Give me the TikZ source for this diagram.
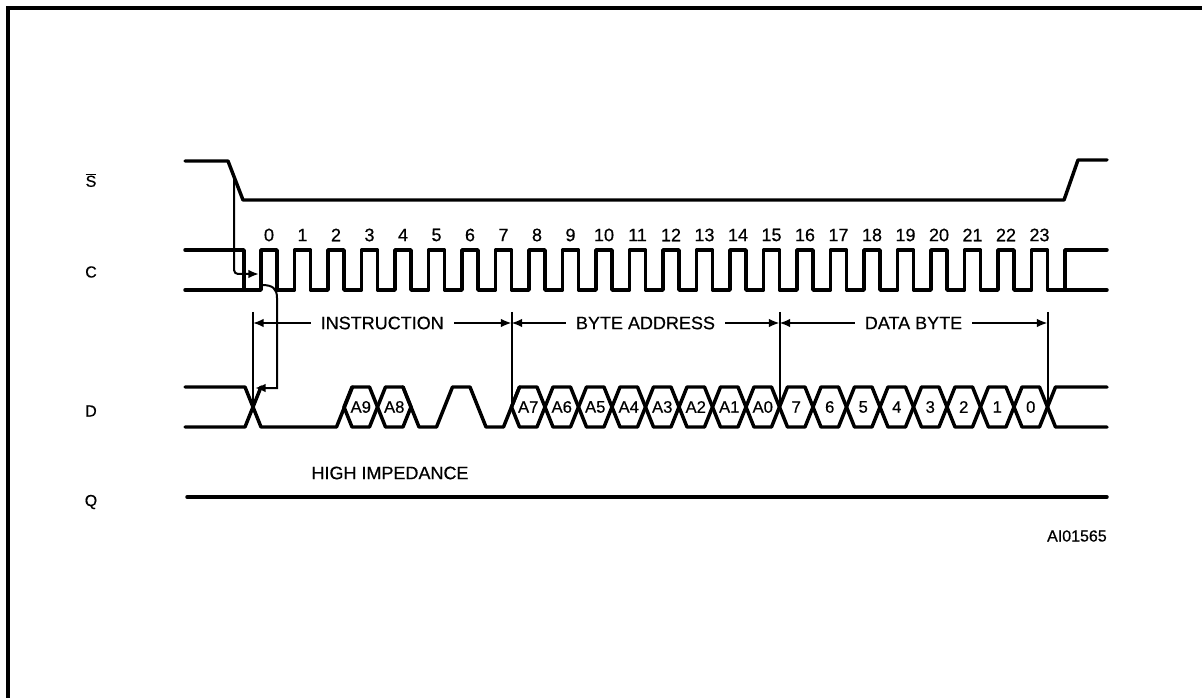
\documentclass[tikz,border=0pt]{standalone}
\usepackage{fontspec}
\setmainfont{Liberation Sans}[FakeBold=0.5]
\usetikzlibrary{arrows.meta}
\begin{document}
\begin{tikzpicture}[x=0.75pt,y=-0.75pt,
  sig/.style={line width=2.6pt, line join=round, line cap=round},
  tick/.style={line width=1.5pt},
  conn/.style={line width=1.5pt, rounded corners=3pt, -{Latex[length=8pt,width=6.5pt]}},
  dimarrow/.style={line width=1.4pt, {Latex[length=8pt,width=6.5pt]}-{Latex[length=8pt,width=6.5pt]}},
  big/.style={font=\fontsize{13.5pt}{16pt}\selectfont, inner sep=0pt},
  dimlbl/.style={big, fill=white, inner xsep=7.5pt, inner ysep=2pt},
  hexlbl/.style={font=\fontsize{12.5pt}{15pt}\selectfont, inner sep=0pt},
  siglbl/.style={font=\fontsize{12pt}{14pt}\selectfont, inner sep=0pt},
  frame/.style={line width=2.4pt}]
\useasboundingbox (0,0) rectangle (1202,698);
\draw[frame] (8,698) -- (8,8) -- (1202,8);

% signal names
\node[siglbl] (ls) at (91,180) {$\overline{\hbox{S}}$};
\node[siglbl] (lc) at (91,272) {C};
\node[siglbl] (ld) at (91,411) {D};
\node[siglbl] (lq) at (91,502) {Q};

% S
\draw[sig] (185,161) -- (228,161) -- (243,200) -- (1064,200) -- (1078,160) -- (1107,160);

% C
\draw[sig] (185,250) -- (244,250) -- (244,290);
\draw[sig] (185,290) -- (261,290) \foreach \i in {0,...,23}{ -- ({261+33.5*\i},250) -- ({277+33.5*\i},250) -- ({277+33.5*\i},290) -- ({294.5+33.5*\i},290)} -- (1107,290);
\draw[sig] (1065,290) -- (1065,250) -- (1107,250);
\foreach \i in {0,...,23} \node[big] (n\i) at ({269+33.5*\i},235) {\i};

% D
\draw[sig] (185,387) -- (245,387) -- (261,427) -- (336.5,427) -- (352.5,387);
\draw[sig] (185,427) -- (245,427) -- (261,387);
\draw[sig] (403,387) -- (419,427) -- (436.5,427) -- (452.5,387) -- (470,387) -- (486,427) -- (503.5,427) -- (519.5,387);
\foreach \k/\t in {2/A9,3/A8,7/A7,8/A6,9/A5,10/A4,11/A3,12/A2,13/A1,14/A0,15/7,16/6,17/5,18/4,19/3,20/2,21/1,22/0} {
  \pgfmathsetmacro\ca{277+33.5*\k}
  \pgfmathsetmacro\cb{\ca+33.5}
  \draw[sig] ({\ca+8},387) -- ({\cb-8},387) -- (\cb,407) -- ({\cb-8},427) -- ({\ca+8},427) -- (\ca,407) -- cycle;
  \node[hexlbl] (h\k) at ({\ca+16.75},407) {\t};
}
\draw[sig] (1047.5,407) -- (1055.5,387) -- (1107,387);
\draw[sig] (1047.5,407) -- (1055.5,427) -- (1107,427);

% Q
\draw[sig] (187,497) -- (1107,497);
\node[big] (hiz) at (390,473) {HIGH IMPEDANCE};
\node[siglbl, anchor=east] (ai) at (1107,536) {AI01565};

% dimension lines
\foreach \x/\n in {253/t0,511.5/t1,779.5/t2,1047.5/t3} {
  \coordinate (\n) at (\x,323);
  \draw[tick] (\x,312) -- (\x,407);
}
\draw[dimarrow] (t0) -- node[dimlbl] (li) {INSTRUCTION} (t1);
\draw[dimarrow] (t1) -- node[dimlbl] (lb) {BYTE ADDRESS} (t2);
\draw[dimarrow] (t2) -- node[dimlbl] (ldb) {DATA BYTE} (t3);

% causal arrows
\coordinate (sf) at (234,177);
\coordinate (cz) at (259,274);
\draw[conn] (sf) |- (cz);
\coordinate (cr) at (262,285);
\coordinate (dx) at (255,388);
\draw[line width=1.5pt, -{Latex[length=8pt,width=6.5pt]}] (cr) .. controls (273,285) and (277,289) .. (277,298) -- (277,388) -- (dx);
\end{tikzpicture}
\end{document}
